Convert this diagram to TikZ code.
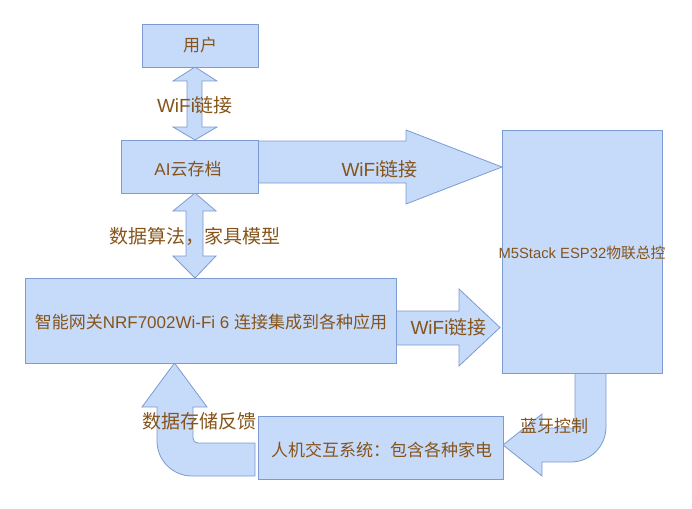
\documentclass[tikz,border=0pt]{standalone}
\usepackage{fontspec}
\setmainfont{Liberation Sans}
\newfontfamily\cjk{Noto Sans CJK SC}
\definecolor{fillcol}{RGB}{198,218,250}
\definecolor{bordercol}{RGB}{124,155,208}
\definecolor{textcol}{RGB}{134,84,26}
\begin{document}
\begin{tikzpicture}[x=1pt,y=-1pt,
  box/.style={draw=bordercol, fill=fillcol, line width=0.8pt, inner sep=0pt, text=textcol, font=\fontsize{17}{20}\selectfont},
  blockarrow/.style={draw=bordercol, fill=fillcol, line width=0.8pt, line join=miter},
  boxtext/.style={text=textcol, inner sep=0pt, font=\fontsize{17}{20}\selectfont},
  lbl/.style={text=textcol, inner sep=0pt, font=\fontsize{19}{22}\selectfont}]
\useasboundingbox (0,0) rectangle (692,508);

% block arrows (drawn first, boxes cover their ends)
\draw[blockarrow] (195,67) -- (217,81) -- (202,81) -- (202,127) -- (217,127) -- (195,140)
  -- (173,127) -- (187,127) -- (187,81) -- (173,81) -- cycle;
\draw[blockarrow] (195,193) -- (216,211) -- (203,211) -- (203,256) -- (216,256) -- (195,278)
  -- (173,256) -- (186,256) -- (186,211) -- (173,211) -- cycle;
\draw[blockarrow] (258,141) -- (406,141) -- (406,130) -- (502,167) -- (406,204) -- (406,183) -- (258,183) -- cycle;
\draw[blockarrow] (396,311) -- (459,311) -- (459,289) -- (500,327.5) -- (459,366) -- (459,345) -- (396,345) -- cycle;
\draw[blockarrow] (575,373) -- (606,373) -- (606,427) .. controls (606,446.3) and (590.3,462) .. (571,462)
  -- (542,462) -- (542,476) -- (503,445) -- (542,414) -- (542,428) -- (575,428) -- cycle;
\draw[blockarrow] (255,443) -- (198,443) .. controls (195,443) and (193,441) .. (193,438) -- (193,407)
  -- (207,407) -- (174.5,363) -- (142,407) -- (157,407) -- (157,441)
  .. controls (157,460.3) and (172.7,476) .. (192,476) -- (255,476) -- cycle;

% boxes
\node[box, minimum width=116pt, minimum height=43pt] (user) at (200,45.5) {\cjk 用户};
\node[box, minimum width=137pt, minimum height=53pt] (ai) at (189.5,166.5) {};
\node[boxtext] (ailbl) at (188,169) {AI{\cjk 云存档}};
\node[box, minimum width=371pt, minimum height=85pt] (gw) at (210.5,320.5) {};
\node[boxtext] (gwlbl) at (211,322.5) {{\cjk 智能网关}NRF7002Wi-Fi 6 {\cjk 连接集成到各种应用}};
\node[box, minimum width=160pt, minimum height=243pt] (m5) at (582,251.5) {};
\node[boxtext, font=\fontsize{14.8}{17}\selectfont] (m5lbl) at (582,253) {M5Stack ESP32{\cjk 物联总控}};
\node[box, minimum width=245pt, minimum height=63pt] (hmi) at (380.5,447.5) {};
\node[boxtext] (hmilbl) at (381.5,449.5) {\cjk 人机交互系统：包含各种家电};

% labels
\node[lbl] (l1) at (195,105) {WiFi{\cjk 链接}};
\node[lbl] (l2) at (379.5,169) {WiFi{\cjk 链接}};
\node[lbl] (l3) at (195,236) {\cjk 数据算法，家具模型};
\node[lbl] (l4) at (448.5,327) {WiFi{\cjk 链接}};
\node[lbl] (l5) at (199,421) {\cjk 数据存储反馈};
\node[lbl, font=\fontsize{17}{20}\selectfont] (l6) at (554,426) {\cjk 蓝牙控制};
\end{tikzpicture}
\end{document}
